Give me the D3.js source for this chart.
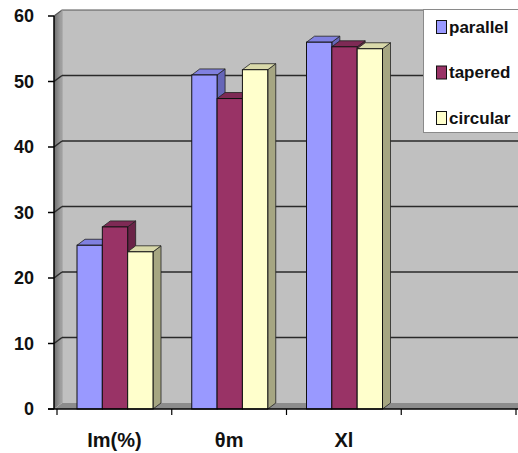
<!DOCTYPE html>
<html>
<head>
<meta charset="utf-8">
<script src="https://cdn.jsdelivr.net/npm/d3@7/dist/d3.min.js"></script>
<style>
  html, body { margin: 0; padding: 0; background: #fff; }
  svg { display: block; }
</style>
</head>
<body>
<script>
// Chart data
const categories = ["Im(%)", "θm", "Xl", ""];
const seriesNames = ["parallel", "tapered", "circular"];
const parallel = [25.0, 51.0, 56.0, null];
const tapered  = [27.8, 47.4, 55.3, null];
const circular = [24.0, 51.8, 55.0, null];
const yTicks = [0, 10, 20, 30, 40, 50, 60];

const seriesValues = [parallel, tapered, circular];
const colors = [
  { front: "#9999FF", top: "#8080E0", side: "#6666B8" },
  { front: "#993366", top: "#7E2A55", side: "#6A2347" },
  { front: "#FFFFCC", top: "#D9D9AA", side: "#A6A682" }
];

const W = 518, H = 453;
const svg = d3.select("body").append("svg").attr("width", W).attr("height", H);

// 3D depth offset of the wall and bars
const dx = 8, dy = 6;
const axisX = 54;

const y = d3.scaleLinear().domain([0, 60]).range([409, 16]);
const x = d3.scaleBand().domain(categories.map((c, i) => i)).range([57, 516]).paddingInner(0).paddingOuter(0);
const xs = d3.scaleBand().domain(seriesNames).range([20, 96]);

const wallLeft = axisX + dx, wallTop = y(60) - dy, wallBottom = y(0) - dy;

// Back wall
svg.append("rect").attr("x", wallLeft).attr("y", wallTop)
  .attr("width", W - wallLeft).attr("height", wallBottom - wallTop)
  .attr("fill", "#C0C0C0");

// Side wall with shading
const defs = svg.append("defs");
const grad = defs.append("linearGradient").attr("id", "sideWall").attr("x1", 0).attr("x2", 1).attr("y1", 0).attr("y2", 0);
grad.append("stop").attr("offset", 0).attr("stop-color", "#6E6E6E");
grad.append("stop").attr("offset", 1).attr("stop-color", "#A8A8A8");
svg.append("path")
  .attr("d", `M${axisX},${y(60)} L${wallLeft},${wallTop} L${wallLeft},${wallBottom} L${axisX},${y(0)} Z`)
  .attr("fill", "url(#sideWall)");

// Floor
svg.append("path")
  .attr("d", `M${axisX},${y(0)} L${wallLeft},${wallBottom} L${W},${wallBottom} L${W},${y(0)} Z`)
  .attr("fill", "#8C8C8C");

// Wall outline
svg.append("path")
  .attr("d", `M${axisX},${y(60)} L${wallLeft},${wallTop} L${W},${wallTop}`)
  .attr("fill", "none").attr("stroke", "#555").attr("stroke-width", 1.2);
svg.append("line").attr("x1", wallLeft).attr("x2", wallLeft).attr("y1", wallTop).attr("y2", wallBottom)
  .attr("stroke", "#9A9A9A").attr("stroke-width", 1);

// Gridlines on back and side walls
const grid = svg.append("g");
yTicks.filter(v => v > 0 && v < 60).forEach(v => {
  grid.append("line").attr("x1", wallLeft).attr("x2", W)
    .attr("y1", y(v) - dy).attr("y2", y(v) - dy)
    .attr("stroke", "#2A2A2A").attr("stroke-width", 1.5);
  grid.append("line").attr("x1", axisX).attr("x2", wallLeft)
    .attr("y1", y(v)).attr("y2", y(v) - dy)
    .attr("stroke", "#2A2A2A").attr("stroke-width", 1.5);
});

// Bars
const bars = svg.append("g");
categories.forEach((c, ci) => {
  seriesValues.forEach((vals, si) => {
    const v = vals[ci];
    if (v == null) return;
    const x0 = x(ci) + xs(seriesNames[si]);
    const w = xs.bandwidth();
    const yt = y(v), yb = y(0);
    const col = colors[si];
    bars.append("path")
      .attr("d", `M${x0 + w},${yt} L${x0 + w + dx},${yt - dy} L${x0 + w + dx},${yb - dy} L${x0 + w},${yb} Z`)
      .attr("fill", col.side).attr("stroke", "#222").attr("stroke-width", 0.8);
    bars.append("path")
      .attr("d", `M${x0},${yt} L${x0 + dx},${yt - dy} L${x0 + w + dx},${yt - dy} L${x0 + w},${yt} Z`)
      .attr("fill", col.top).attr("stroke", "#222").attr("stroke-width", 0.8);
    bars.append("rect").attr("x", x0).attr("y", yt).attr("width", w).attr("height", yb - yt)
      .attr("fill", col.front).attr("stroke", "#111").attr("stroke-width", 1);
  });
});

// Y axis
const yAxis = svg.append("g");
yAxis.append("line").attr("x1", axisX).attr("x2", axisX).attr("y1", y(60)).attr("y2", y(0))
  .attr("stroke", "#000").attr("stroke-width", 1.5);
yTicks.forEach(v => {
  yAxis.append("line").attr("x1", axisX - 6).attr("x2", axisX).attr("y1", y(v)).attr("y2", y(v))
    .attr("stroke", "#000").attr("stroke-width", 1.5);
  yAxis.append("text").attr("x", 34).attr("y", y(v)).attr("dy", "0.35em")
    .attr("text-anchor", "end")
    .attr("font-family", "Liberation Sans, Arial, sans-serif").attr("font-weight", "bold")
    .attr("font-size", 18).attr("fill", "#111").text(v);
});

// X axis
const xAxis = svg.append("g");
xAxis.append("line").attr("x1", axisX - 6).attr("x2", W).attr("y1", y(0)).attr("y2", y(0))
  .attr("stroke", "#000").attr("stroke-width", 1.5);
const bounds = categories.map((c, i) => x(i)).concat([x.range()[1]]);
bounds.forEach(b => {
  xAxis.append("line").attr("x1", b).attr("x2", b).attr("y1", y(0)).attr("y2", y(0) + 6)
    .attr("stroke", "#000").attr("stroke-width", 1.2);
});
categories.forEach((c, i) => {
  xAxis.append("text").attr("x", x(i) + x.bandwidth() / 2).attr("y", 447)
    .attr("text-anchor", "middle")
    .attr("font-family", "Liberation Sans, Arial, sans-serif").attr("font-weight", "bold")
    .attr("font-size", 20).attr("fill", "#111").text(c);
});

// Legend
const legend = svg.append("g");
legend.append("rect").attr("x", 423.5).attr("y", 9.5).attr("width", W - 423).attr("height", 123)
  .attr("fill", "#fff").attr("stroke", "#8A8A8A").attr("stroke-width", 1);
seriesNames.forEach((name, i) => {
  const cy = 27 + i * 45.5;
  legend.append("rect").attr("x", 436.5).attr("y", cy - 6.5).attr("width", 10).attr("height", 13)
    .attr("fill", colors[i].front).attr("stroke", "#111").attr("stroke-width", 1);
  legend.append("text").attr("x", 449).attr("y", cy).attr("dy", "0.35em")
    .attr("font-family", "Liberation Sans, Arial, sans-serif").attr("font-weight", "bold")
    .attr("font-size", 17).attr("fill", "#111").text(name);
});
</script>
</body>
</html>
